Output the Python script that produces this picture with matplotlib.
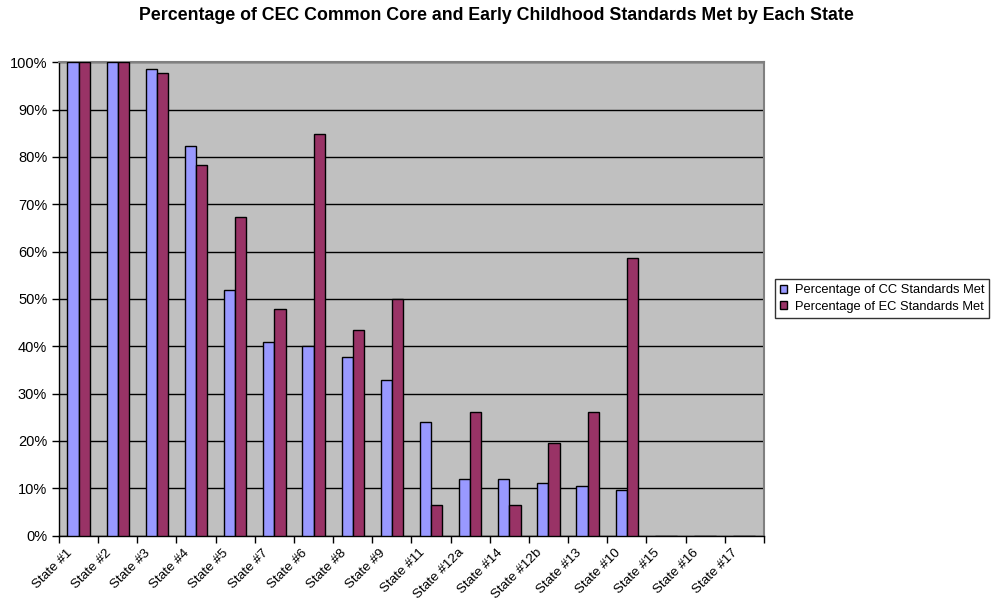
import matplotlib
matplotlib.use("Agg")
import matplotlib.pyplot as plt
import matplotlib.transforms as mtransforms
import numpy as np
from matplotlib.ticker import PercentFormatter
from matplotlib.patches import Patch

plt.rcParams['font.family'] = ['Liberation Sans', 'DejaVu Sans']

states = ["State #1", "State #2", "State #3", "State #4", "State #5", "State #7",
          "State #6", "State #8", "State #9", "State #11", "State #12a", "State #14",
          "State #12b", "State #13", "State #10", "State #15", "State #16", "State #17"]
cc_met = [100, 100, 98.5, 82.4, 52.0, 40.9, 40.1, 37.7, 32.9, 24.1, 12.0, 12.0,
          11.2, 10.4, 9.6, 0, 0, 0]
ec_met = [100, 100, 97.8, 78.3, 67.4, 47.8, 84.8, 43.5, 50.0, 6.5, 26.1, 6.5,
          19.6, 26.1, 58.7, 0, 0, 0]

fig = plt.figure(figsize=(9.92, 6.05), dpi=100)
ax = fig.add_axes([0.0595, 0.1146, 0.7105, 0.7824])

x = np.arange(len(states))
w = 1 / 3.5
ax.bar(x - w / 2, cc_met, width=w, color="#9999FF", edgecolor="black", linewidth=1.0,
       label="Percentage of CC Standards Met", zorder=3)
ax.bar(x + w / 2, ec_met, width=w, color="#993366", edgecolor="black", linewidth=1.0,
       label="Percentage of EC Standards Met", zorder=3)

ax.set_facecolor("#C0C0C0")
ax.set_xlim(-0.5, len(states) - 0.5)
ax.set_ylim(0, 100)
ax.set_yticks(np.arange(0, 101, 10))
ax.yaxis.set_major_formatter(PercentFormatter(decimals=0))
ax.yaxis.grid(True, color="black", linewidth=1.0, zorder=1)
ax.set_axisbelow(True)

ax.set_xticks(x)
ax.set_xticklabels(states, rotation=45, ha="right", va="top", fontsize=9.7)
ax.set_xticks(np.arange(-0.5, len(states), 1), minor=True)
ax.tick_params(axis="x", which="major", length=0, pad=8)
ax.tick_params(axis="x", which="minor", length=5, width=1, direction="out")
ax.tick_params(axis="y", length=5, width=1, direction="out", labelsize=10.5, pad=3.5)

shift = mtransforms.ScaledTranslation(-4 / 100, 0, fig.dpi_scale_trans)
for lbl in ax.get_xticklabels():
    lbl.set_transform(lbl.get_transform() + shift)

for side in ("top", "right"):
    ax.spines[side].set_color("#808080")
    ax.spines[side].set_linewidth(1.5)
for side in ("left", "bottom"):
    ax.spines[side].set_color("black")
    ax.spines[side].set_linewidth(1.0)

fig.text(0.5, 0.975,
         "Percentage of CEC Common Core and Early Childhood Standards Met by Each State",
         ha="center", va="center", fontsize=12.8, fontweight="bold")

handles = [Patch(facecolor="#9999FF", edgecolor="black"),
           Patch(facecolor="#993366", edgecolor="black")]
leg = fig.legend(handles, ["Percentage of CC Standards Met", "Percentage of EC Standards Met"],
                 loc="upper left", bbox_to_anchor=(0.781, 0.5388), fontsize=9.3,
                 frameon=True, fancybox=False, handlelength=0.55, handleheight=0.55,
                 handletextpad=0.6, borderpad=0.4, labelspacing=0.35, borderaxespad=0)
leg.get_frame().set_edgecolor("black")
leg.get_frame().set_linewidth(1.0)

fig.savefig("out.png", dpi=100)
